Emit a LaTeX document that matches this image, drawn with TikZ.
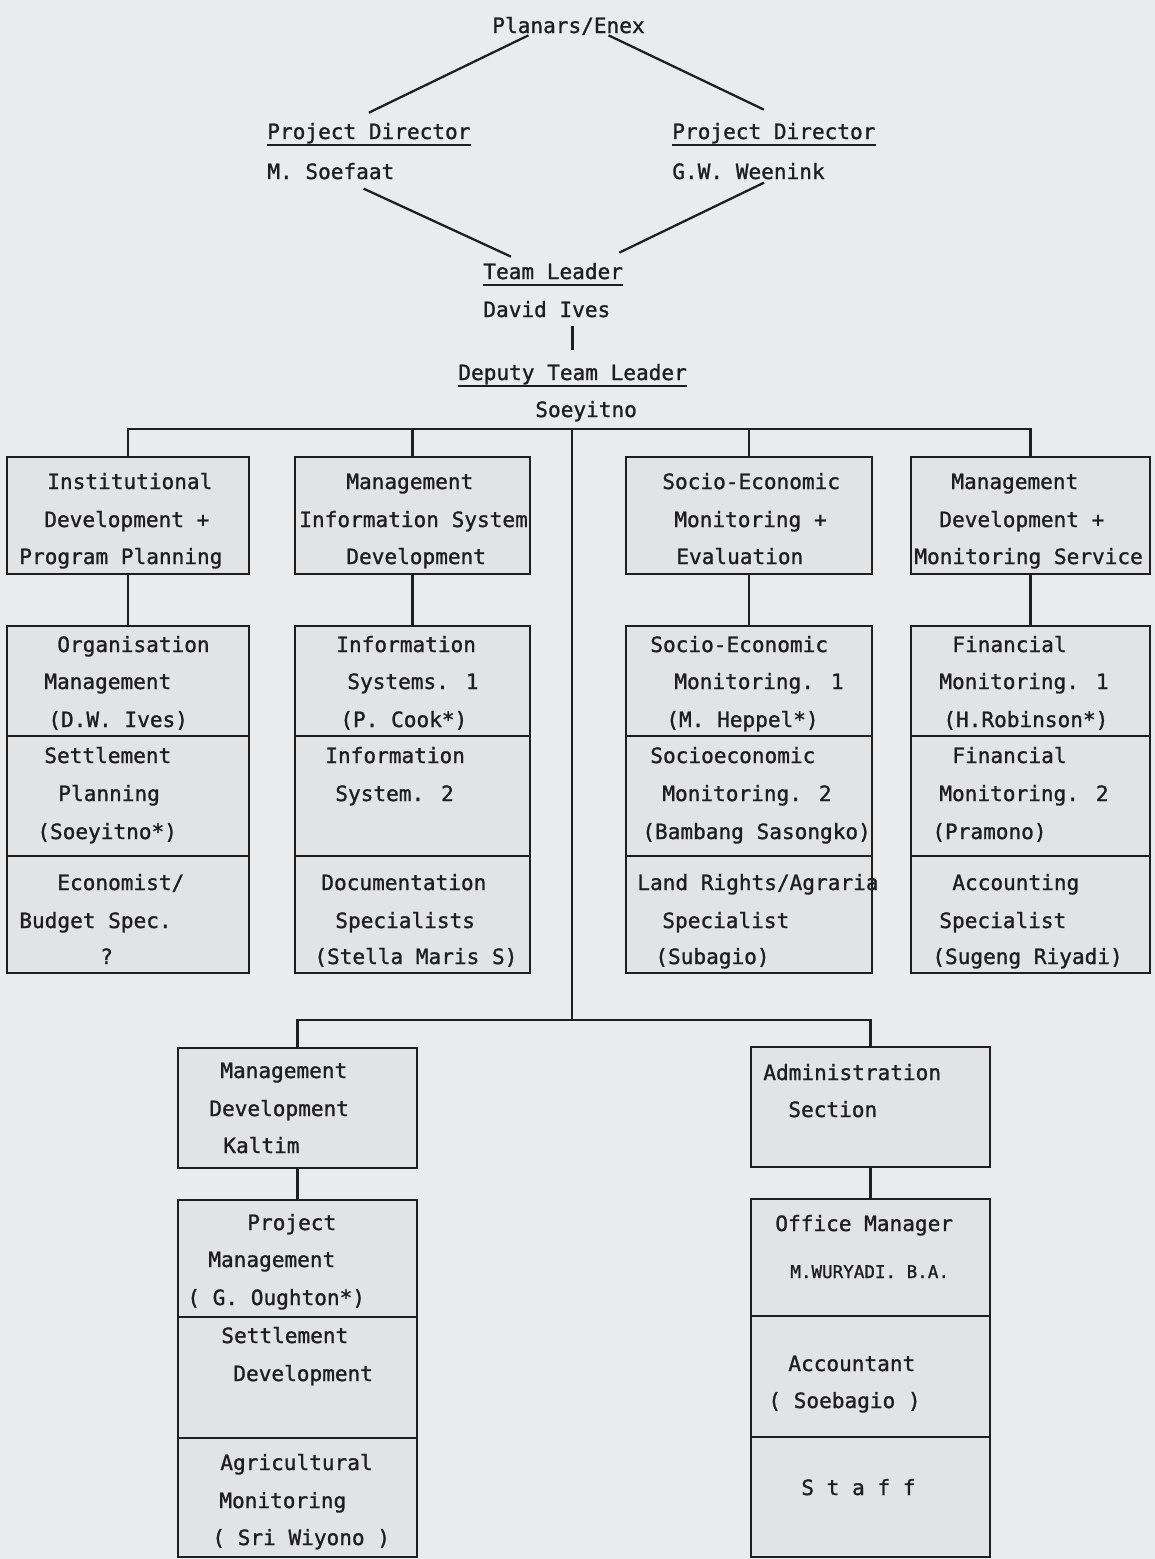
\documentclass[tikz,border=0pt]{standalone}
\usepackage{fontspec}
\setmainfont{DejaVu Sans Mono}[FakeBold=1.2]
\usepackage{tikz}
\usetikzlibrary{fit,calc}
\usepackage{xcolor}
\definecolor{paper}{HTML}{E9ECEE}
\definecolor{boxgray}{HTML}{E1E3E5}
\definecolor{ink}{HTML}{1E1E1E}

\begin{document}
\begin{tikzpicture}[x=0.02cm,y=-0.02cm,
        txt/.style={anchor=base west,inner sep=0pt,text=ink,font=\fontsize{12}{14}\selectfont},
        smalltxt/.style={txt,font=\fontsize{10}{12}\selectfont},
        box/.style={draw=ink,fill=boxgray,inner sep=0pt,line width=1.3pt},
        link/.style={draw=ink,line width=1.3pt}]
        %paper
        \useasboundingbox (0,0) rectangle (1155,1559);
        \fill[paper] (0,0) rectangle (1155,1559);

        %the top of the chart
        \node[txt] (plan) at (492,33) {Planars/Enex};
        \node[txt] (pdl) at (267,139) {Project Director};
        \node[txt] (msoe) at (267,179) {M. Soefaat};
        \node[txt] (pdr) at (672,139) {Project Director};
        \node[txt] (gww) at (672,179) {G.W. Weenink};
        \node[txt] (tl) at (483,279) {Team Leader};
        \node[txt] (dives) at (483,317) {David Ives};
        \node[txt] (dtl) at (458,380) {Deputy Team Leader};
        \node[txt] (soey) at (535,417) {Soeyitno};
        \foreach \n in {pdl,pdr,tl,dtl}
        \draw[link] ([yshift=-3.6pt]\n.base west) -- ([yshift=-3.6pt]\n.base east);

        \draw[link] ($(plan.south)+(-40,0)$) -- ($(pdl.north)+(0,-10)$);
        \draw[link] ($(plan.south)+(40,0)$) -- ($(pdr.north)+(-10,-13)$);
        \draw[link] ($(msoe.south east)+(-31,9)$) -- ($(tl.north west)+(28,-6)$);
        \draw[link] ($(gww.south east)+(-61,3)$) -- ($(tl.north east)+(-4,-10)$);
        \draw[link] ($(dives.south -| dtl.north)+(0,8)$) -- ($(dtl.north)+(0,-14)$);

        %the four sections
        \node[box, fit={(7,457) (249,574)}] (idp) {};
        \node[box, fit={(295,457) (530,574)}] (mis) {};
        \node[box, fit={(626,457) (872,574)}] (sem) {};
        \node[box, fit={(911,457) (1150,574)}] (mds) {};

        %their staff
        \node[box, fit={(7,626) (249,736)}] (orgm) {};
        \node[box, fit={(7,736) (249,856)}] (setp) {};
        \node[box, fit={(7,856) (249,973)}] (econ) {};
        \node[box, fit={(295,626) (530,736)}] (infa) {};
        \node[box, fit={(295,736) (530,856)}] (infb) {};
        \node[box, fit={(295,856) (530,973)}] (docs) {};
        \node[box, fit={(626,626) (872,736)}] (sema) {};
        \node[box, fit={(626,736) (872,856)}] (semb) {};
        \node[box, fit={(626,856) (872,973)}] (land) {};
        \node[box, fit={(911,626) (1150,736)}] (fina) {};
        \node[box, fit={(911,736) (1150,856)}] (finb) {};
        \node[box, fit={(911,856) (1150,973)}] (acsp) {};

        %the two lower sections
        \node[box, fit={(178,1048) (417,1168)}] (kal) {};
        \node[box, fit={(751,1047) (990,1167)}] (adm) {};
        \node[box, fit={(178,1200) (417,1317)}] (prm) {};
        \node[box, fit={(178,1317) (417,1438)}] (setd) {};
        \node[box, fit={(178,1438) (417,1557)}] (agm) {};
        \node[box, fit={(751,1199) (990,1316)}] (offm) {};
        \node[box, fit={(751,1316) (990,1437)}] (acct) {};
        \node[box, fit={(751,1437) (990,1557)}] (staff) {};

        %connectors
        \coordinate (bus) at (572,429);
        \coordinate (lowbus) at (575,1020);
        \draw[link] (idp.north) -- (idp.north |- bus) -- (mds.north |- bus) -- (mds.north);
        \draw[link] (mis.north) -- (mis.north |- bus);
        \draw[link] (sem.north) -- (sem.north |- bus);
        \draw[link] (bus) -- (bus |- lowbus);
        \draw[link] (kal.north) -- (kal.north |- lowbus) -- (adm.north |- lowbus) -- (adm.north);
        \draw[link] (idp.south) -- (orgm.north);
        \draw[link] (mis.south) -- (infa.north);
        \draw[link] (sem.south) -- (sema.north);
        \draw[link] (mds.south) -- (fina.north);
        \draw[link] (kal.south) -- (prm.north);
        \draw[link] (adm.south) -- (offm.north);

        %texts of the sections
        \foreach \n/\x/\y/\t in {ida/47/489/Institutional, idb/44/527/{Development +}, idc/19/564/{Program Planning},
                misa/346/489/Management, misb/299/527/{Information System}, misc/346/564/Development,
                sea/662/489/Socio-Economic, seb/674/527/{Monitoring +}, sec/676/564/Evaluation,
                mda/951/489/Management, mdb/939/527/{Development +}, mdc/914/564/{Monitoring Service},
                kala/220/1078/Management, kalb/209/1116/Development, kalc/223/1153/Kaltim,
                adma/763/1080/Administration, admb/788/1117/Section}
        \node[txt] (\n) at (\x,\y) {\t};

        %texts of the staff
        \foreach \n/\x/\y/\t in {oa/57/652/Organisation, ob/44/689/Management, oc/48/727/{(D.W. Ives)},
                sa/44/763/Settlement, sb/58/801/Planning, sc/37/839/{(Soeyitno*)},
                ea/57/890/{Economist/}, eb/19/928/{Budget Spec.}, ec/100/964/{?},
                ia/336/652/Information, ib/347/689/{Systems. 1}, ic/340/727/{(P. Cook*)},
                ja/325/763/Information, jb/335/801/{System. 2},
                da/321/890/Documentation, db/335/928/Specialists, dc/314/964/{(Stella Maris S)},
                ma/650/652/Socio-Economic, mb/674/689/{Monitoring. 1}, mc/666/727/{(M. Heppel*)},
                na/650/763/Socioeconomic, nb/662/801/{Monitoring. 2}, nc/642/839/{(Bambang Sasongko)},
                la/637/890/{Land Rights/Agraria}, lb/662/928/Specialist, lc/655/964/{(Subagio)},
                fa/952/652/Financial, fb/939/689/{Monitoring. 1}, fc/943/727/{(H.Robinson*)},
                ga/952/763/Financial, gb/939/801/{Monitoring. 2}, gc/932/839/{(Pramono)},
                aa/952/890/Accounting, ab/939/928/Specialist, ac/932/964/{(Sugeng Riyadi)},
                pa/247/1230/Project, pb/208/1267/Management, pc/187/1305/{( G. Oughton*)},
                ta/221/1343/Settlement, tb/233/1381/Development,
                ua/220/1470/Agricultural, ub/219/1508/Monitoring, uc/212/1545/{( Sri Wiyono )},
                va/775/1231/{Office Manager},
                wa/788/1371/Accountant, wb/768/1408/{( Soebagio )},
                xa/801/1495/{S t a f f}}
        \node[txt] (\n) at (\x,\y) {\t};
        \node[smalltxt] (vb) at (790,1278) {M.WURYADI. B.A.};
\end{tikzpicture}
\end{document}
